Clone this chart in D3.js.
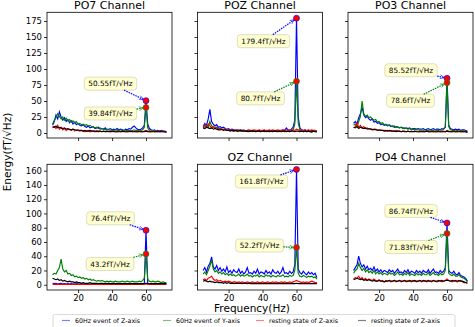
<!DOCTYPE html>
<html>
<head>
<meta charset="utf-8">
<script src="https://cdn.jsdelivr.net/npm/d3@7"></script>
<style>
  body { margin: 0; background: #fff; }
  text { font-family: "DejaVu Sans", sans-serif; }
</style>
</head>
<body>
<svg id="chart" width="475" height="327"></svg>
<script>
// ---- data ----
const freqs = [5,6,7,8,9,10,11,12,13,14,15,16,17,18,19,20,21,22,23,24,25,26,27,28,29,30,31,32,33,34,
  35,36,37,38,39,40,41,42,43,44,45,46,47,48,49,50,51,52,53,54,55,56,57,58,59,60,61,62,63,64,65,66,67,68,69,70,71,72];

const channels = ["PO7 Channel", "POZ Channel", "PO3 Channel", "PO8 Channel", "OZ Channel", "PO4 Channel"];

// 60Hz event of Z-axis (blue), one row per channel
const zEvent = [
  [12,18,28,22,33,25,20,24,18,21, 16,19,14,17,13,15,12,11,13,10, 9,11,8,9,10,7,8,9,6,7, 6,8,5,6,7,5,6,5,7,5, 6,5,4,6,5,7,6,9,11,8, 6,5,6,8,12, 50.55, 14,7,5,4,5,3,4,3,4,3,3,2],
  [10,15,12,22,37,18,14,11,13,9, 10,8,9,7,6,7,5,6,5,4, 5,4,5,4,4,3,4,4,3,4, 3,4,3,4,3,3,4,3,3,4, 3,4,3,3,4,3,4,5,4,8, 5,4,6,9,20, 179.4, 25,8,5,4,5,3,4,3,4,3,3,2],
  [15,18,14,24,30,40,28,24,26,22, 20,22,17,18,15,16,13,14,12,13, 11,12,10,11,9,10,9,8,9,8, 7,8,7,8,6,7,7,6,7,6, 6,7,5,6,7,5,6,7,5,6, 6,5,7,6,9, 85.52, 12,7,6,5,6,5,6,4,5,5,4,3],
  [2,1.5,2,1,1.5,2,1,1.5,1,1.5, 1,1.5,1,1,1.5,1,1,1.5,1,1, 1.5,1,1,1,1.5,1,1,1,1.5,1, 1,1,1.5,1,1,1,1,1.5,1,1, 1,1.5,1,1,1,1,1.5,1,1,1, 1,1,1.5,1,2, 76.4, 2,1,1,1.5,1,1,1,1.5,1,1,1,1],
  [20,24,18,26,30,39,25,22,27,20, 24,19,22,18,25,17,20,16,21,18, 17,22,16,19,15,18,24,16,17,15, 19,16,22,15,18,17,15,20,16,18, 15,21,17,16,19,15,18,24,16,17, 15,19,16,18,28, 161.8, 22,17,15,19,16,14,18,15,17,14,16,10],
  [20,24,28,40,30,25,28,22,26,21, 23,20,25,19,22,18,21,17,20,19, 17,21,18,20,16,19,22,17,18,16, 20,17,21,16,19,18,16,20,17,19, 16,20,18,17,21,16,19,22,17,18, 16,20,17,19,24, 86.74, 20,17,16,19,15,14,17,13,12,11,9,5]
];

// 60Hz event of Y-axis (green)
const yEvent = [
  [14,20,24,30,26,22,25,20,23,19, 21,17,19,16,18,14,15,13,14,12, 13,11,12,10,9,8,9,7,8,6, 7,5,6,5,4,5,4,5,4,4, 5,4,4,3,4,4,3,4,5,4, 4,3,4,5,9, 39.84, 8,4,3,4,3,3,2,3,3,2,2,2],
  [8,10,12,9,18,11,10,8,9,7, 7,6,5,6,4,5,4,4,3,4, 3,4,3,3,4,3,2,3,3,2, 3,2,3,3,2,3,2,3,2,3, 2,3,3,2,3,2,3,3,2,3, 3,2,3,5,14, 80.7, 16,5,3,2,3,2,3,2,1,3,2,2],
  [12,14,10,18,26,50,30,26,28,24, 25,22,20,21,17,18,15,16,13,14, 12,13,11,10,11,9,10,8,9,7, 8,7,6,7,5,6,5,6,5,4, 5,4,5,4,4,5,4,4,5,4, 4,5,4,6,10, 78.6, 10,5,4,4,3,4,3,3,4,3,3,2],
  [14,16,15,20,24,36,22,18,20,15, 16,13,14,11,12,10,11,9,10,8, 9,7,8,6,7,6,5,6,5,6, 5,4,5,4,5,4,4,5,4,4, 4,5,4,4,5,4,4,5,4,4, 4,5,4,6,9, 43.2, 8,5,4,5,4,4,5,4,3,4,3,3],
  [15,18,14,20,26,35,22,18,20,16, 18,15,17,14,16,13,15,13,14,12, 13,15,12,14,12,13,15,12,13,11, 13,12,14,11,13,12,11,14,12,13, 11,13,12,11,13,12,12,14,11,12, 11,13,12,13,20, 52.2, 16,12,11,13,12,10,12,11,12,10,11,8],
  [16,20,22,30,24,20,23,18,21,17, 19,16,20,15,18,15,17,14,16,15, 14,17,15,16,13,15,18,14,15,13, 16,14,17,13,15,14,13,16,14,15, 13,16,14,14,17,13,15,17,14,15, 13,16,14,15,20, 71.83, 16,14,13,15,12,12,14,11,10,9,7,4]
];

// resting state of Z-axis (red)
const zRest = [
  [8,10,7,12,6,9,5,7,4,6, 5,4,6,3,5,4,3,4,3,2, 3,4,2,3,3,2,4,2,3,2, 3,2,2,3,2,2,3,2,2,3, 2,2,3,2,2,3,2,2,3,2, 2,3,2,2,3, 4, 3,2,2,3,2,2,3,2,2,3,2,2],
  [10,12,9,14,11,8,10,7,8,6, 7,5,6,5,4,6,4,5,4,5, 4,5,4,4,5,3,4,5,4,4, 5,4,4,5,4,4,5,4,4,5, 4,5,4,4,5,4,4,5,4,5, 4,5,4,5,4, 6, 5,4,5,4,5,4,5,4,5,4,4,3],
  [8,10,15,9,12,8,10,7,8,6, 7,6,5,6,5,4,5,4,4,3, 4,3,4,3,3,4,3,3,2,3, 3,2,3,2,3,2,2,3,2,2, 3,2,2,3,2,2,3,2,2,2, 3,2,2,3,2, 4, 3,2,2,3,2,2,3,2,2,2,2,1],
  [0.5,0.6,0.4,0.5,0.7,0.5,0.4,0.6,0.5,0.5, 0.4,0.5,0.6,0.4,0.5,0.5,0.4,0.6,0.5,0.4, 0.5,0.6,0.4,0.5,0.5,0.4,0.6,0.5,0.5,0.4, 0.5,0.6,0.4,0.5,0.5,0.4,0.6,0.5,0.4,0.5, 0.5,0.4,0.6,0.5,0.5,0.4,0.5,0.6,0.4,0.5, 0.5,0.4,0.6,0.5,0.8, 1.2, 0.6,0.5,0.4,0.5,0.6,0.4,0.5,0.5,0.4,0.6,0.5,0.4],
  [7,8,6,9,10,12,8,6,7,5, 6,5,4,5,4,5,4,3,4,4, 3,4,3,4,3,3,4,3,3,4, 3,3,4,3,3,4,3,3,4,3, 3,4,3,4,3,3,4,3,4,3, 3,4,3,4,5, 6, 5,4,3,4,3,4,3,4,5,4,3,3],
  [8,10,9,12,8,10,7,9,6,8, 7,6,8,6,5,7,5,6,4,6, 5,6,4,5,6,4,5,6,4,5, 6,4,5,5,4,6,5,4,5,6, 4,5,6,4,5,5,4,6,5,4, 5,6,4,5,6, 8, 6,5,4,6,5,4,5,6,4,3,3,2]
];

// resting state (black)
const kRest = [
  [10,9,11,8,9,8,7,8,6,7, 6,5,6,5,4,5,4,4,3,4, 3,3,4,3,3,3,2,3,3,2, 3,2,3,2,2,3,2,2,2,2, 2,3,2,2,2,2,3,2,2,2, 2,2,2,2,2, 3, 2,2,2,2,2,2,2,2,2,2,2,1],
  [8,7,9,8,7,8,6,7,6,5, 5,6,4,5,4,4,3,4,3,4, 3,3,4,3,3,3,3,2,3,3, 3,2,3,3,2,3,3,2,3,2, 3,2,3,3,2,3,2,3,3,2, 3,2,3,3,2, 3, 3,2,3,2,3,2,3,2,2,3,2,2],
  [9,8,10,7,9,8,7,8,6,7, 6,5,6,5,4,5,4,4,3,4, 3,4,3,3,3,2,3,3,2,3, 2,2,3,2,2,2,3,2,2,2, 2,2,2,3,2,2,2,2,2,2, 2,2,2,2,2, 3, 2,2,2,2,2,2,2,2,2,2,2,1],
  [9,8,7,8,6,7,5,6,5,4, 5,4,4,3,4,3,3,2,3,2, 2,2,3,2,2,2,2,1.5,2,2, 1.5,2,1.5,2,1.5,1.5,2,1.5,1.5,1.5, 1.5,1.5,1.5,1.5,1.5,1.5,1.5,1.5,1.5,1.5, 1.5,1.5,1.5,1.5,1.5, 2, 1.5,1.5,1.5,1.5,1.5,1.5,1.5,1.5,1.5,1.5,1.5,1.5],
  [5,6,5,4,5,4,4,3,4,3, 3,3,2,3,2,3,2,2,2,2, 2,2,2,1.5,2,2,1.5,2,1.5,1.5, 1.5,1.5,1.5,1.5,1.5,1.5,1.5,1.5,1.5,1.5, 1.5,1.5,1.5,1.5,1.5,1.5,1.5,1.5,1.5,1.5, 1.5,1.5,1.5,1.5,1.5, 2, 1.5,1.5,1.5,1.5,1.5,1.5,1.5,1.5,1.5,1.5,1.5,1.5],
  [7,8,9,8,7,8,6,7,6,7, 6,5,6,5,5,6,5,5,4,5, 5,6,5,5,6,5,5,6,5,5, 6,5,5,6,5,5,6,5,5,6, 5,6,5,5,6,5,5,6,5,5, 6,5,6,5,6, 6, 6,5,6,5,6,5,6,5,5,4,3,2]
];

const xTicks = [20, 40, 60];
const yTicksTop = [0, 25, 50, 75, 100, 125, 150, 175];
const yTicksBottom = [0, 20, 40, 60, 80, 100, 120, 140, 160];
const legendLabels = ["60Hz event of Z-axis", "60Hz event of Y-axis", "resting state of Z-axis", "resting state of Z-axis"];

// ---- layout / style ----
const svg = d3.select("#chart");
const panelLeft = [47, 197.5, 348];
const panelTop = [12.3, 164.3];
const panelW = 125, panelH = 125.7;
const colors = ["#0000ff", "#008000", "#ff0000", "#000000"];
const legendColors = ["#8080ff", "#80c080", "#ff8080", "#808080"];
// box centre offsets (px) from the marked peak, [Z-axis box, Y-axis box]
const annOffsets = [
  [[-35.5, -17], [-35.5, 6]],
  [[-33, 23], [-36, 17]],
  [[-36, -8], [-36.5, 18]],
  [[-35.5, -12], [-36, 10]],
  [[-35, 12], [-37, -2]],
  [[-36, -12], [-36, 13.5]]
];

const x = d3.scaleLinear().domain([1.7, 75.3]).range([0, panelW]);
const yTop = d3.scaleLinear().domain([-7.8, 188.6]).range([panelH, 0]);
const yBot = d3.scaleLinear().domain([-7.4, 169]).range([panelH, 0]);

// arrow head marker
svg.append("defs").selectAll("marker")
  .data(colors.slice(0, 2))
  .enter().append("marker")
  .attr("id", (d, i) => "arrow" + i)
  .attr("viewBox", "0 0 10 10")
  .attr("refX", 9).attr("refY", 5)
  .attr("markerWidth", 5).attr("markerHeight", 5)
  .attr("markerUnits", "userSpaceOnUse")
  .attr("orient", "auto")
  .append("path")
  .attr("d", "M1,1 L9,5 L1,9")
  .attr("fill", "none")
  .attr("stroke", d => d)
  .attr("stroke-width", 1.2);

const i60 = freqs.indexOf(60);

channels.forEach((name, c) => {
  const row = Math.floor(c / 3), col = c % 3;
  const y = row === 0 ? yTop : yBot;
  const g = svg.append("g")
    .attr("transform", `translate(${panelLeft[col]},${panelTop[row]})`);

  // axes
  const xAxis = g.append("g")
    .attr("transform", `translate(0,${panelH})`)
    .call(d3.axisBottom(x).tickValues(xTicks).tickSize(3).tickPadding(1.5)
      .tickFormat(row === 1 ? d3.format("d") : ""));
  const yAxis = g.append("g")
    .call(d3.axisLeft(y).tickValues(row === 0 ? yTicksTop : yTicksBottom).tickSize(3).tickPadding(2)
      .tickFormat(col === 0 ? d3.format("d") : ""));
  [xAxis, yAxis].forEach(a => {
    a.select(".domain").remove();
    a.selectAll("line").attr("stroke", "#000").attr("stroke-width", 0.8);
    a.selectAll("text").style("font-size", "8.5px").attr("fill", "#000")
      .style("font-family", "'DejaVu Sans', sans-serif");
  });

  // series lines
  const line = d3.line().x((d, i) => x(freqs[i])).y(d => y(d));
  [zEvent[c], yEvent[c], zRest[c], kRest[c]].forEach((vals, s) => {
    g.append("path")
      .datum(vals)
      .attr("fill", "none")
      .attr("stroke", colors[s])
      .attr("stroke-width", 1.15)
      .attr("d", line);
  });

  // frame
  g.append("rect")
    .attr("width", panelW).attr("height", panelH)
    .attr("fill", "none").attr("stroke", "#000").attr("stroke-width", 0.8);

  // title
  g.append("text")
    .attr("x", panelW / 2).attr("y", -3.8)
    .attr("text-anchor", "middle")
    .style("font-size", "11px")
    .text(name);

  // peak annotations at 60 Hz
  [zEvent[c][i60], yEvent[c][i60]].forEach((v, k) => {
    const px = x(60), py = y(v);
    const cx = px + annOffsets[c][k][0], cy = py + annOffsets[c][k][1];
    const label = g.append("text")
      .attr("x", cx).attr("y", cy + 2.7)
      .attr("text-anchor", "middle")
      .style("font-size", "7.3px")
      .text(v + "fT/\u221AHz");
    const w = label.node().getComputedTextLength() + 8, h = 13;
    g.insert("rect", () => label.node())
      .attr("x", cx - w / 2).attr("y", cy - h / 2)
      .attr("width", w).attr("height", h)
      .attr("rx", 3)
      .attr("fill", "#ffffcc").attr("fill-opacity", 0.9)
      .attr("stroke", "#c9c9a6").attr("stroke-width", 0.6);

    // arrow from the box edge to the point
    const dx = px - cx, dy = py - cy;
    const t = Math.min((w / 2) / Math.abs(dx || 1e-6), (h / 2) / Math.abs(dy || 1e-6));
    const sx = cx + dx * t, sy = cy + dy * t;
    const len = Math.hypot(px - sx, py - sy);
    const ex = px - (px - sx) / len * 3, ey = py - (py - sy) / len * 3;
    g.append("line")
      .attr("x1", sx).attr("y1", sy).attr("x2", ex).attr("y2", ey)
      .attr("stroke", colors[k]).attr("stroke-width", 1.2)
      .attr("stroke-dasharray", "1.5,1")
      .attr("marker-end", `url(#arrow${k})`);

    g.append("circle")
      .attr("cx", px).attr("cy", py).attr("r", 3)
      .attr("fill", "#ff0000")
      .attr("stroke", d3.color(colors[k]).brighter(0.5)).attr("stroke-width", 0.6);
  });
});

// axis labels
svg.append("text")
  .attr("x", 252).attr("y", 312)
  .attr("text-anchor", "middle")
  .style("font-size", "10.5px")
  .text("Frequency(Hz)");

svg.append("text")
  .attr("transform", "translate(11,152) rotate(-90)")
  .attr("text-anchor", "middle")
  .style("font-size", "10.5px")
  .text("Energy(fT/\u221AHz)");

// legend
const legend = svg.append("g");
legend.append("rect")
  .attr("x", 53).attr("y", 314.5)
  .attr("width", 402).attr("height", 20)
  .attr("rx", 2)
  .attr("fill", "#fff").attr("stroke", "#d0d0d0").attr("stroke-width", 0.8);
const legendX = [62, 163, 256, 358];
legendLabels.forEach((lab, i) => {
  legend.append("line")
    .attr("x1", legendX[i]).attr("x2", legendX[i] + 8)
    .attr("y1", 320.5).attr("y2", 320.5)
    .attr("stroke", legendColors[i]).attr("stroke-width", 1.2);
  legend.append("text")
    .attr("x", legendX[i] + 13).attr("y", 322.8)
    .style("font-size", "6.3px")
    .text(lab);
});
</script>
</body>
</html>
